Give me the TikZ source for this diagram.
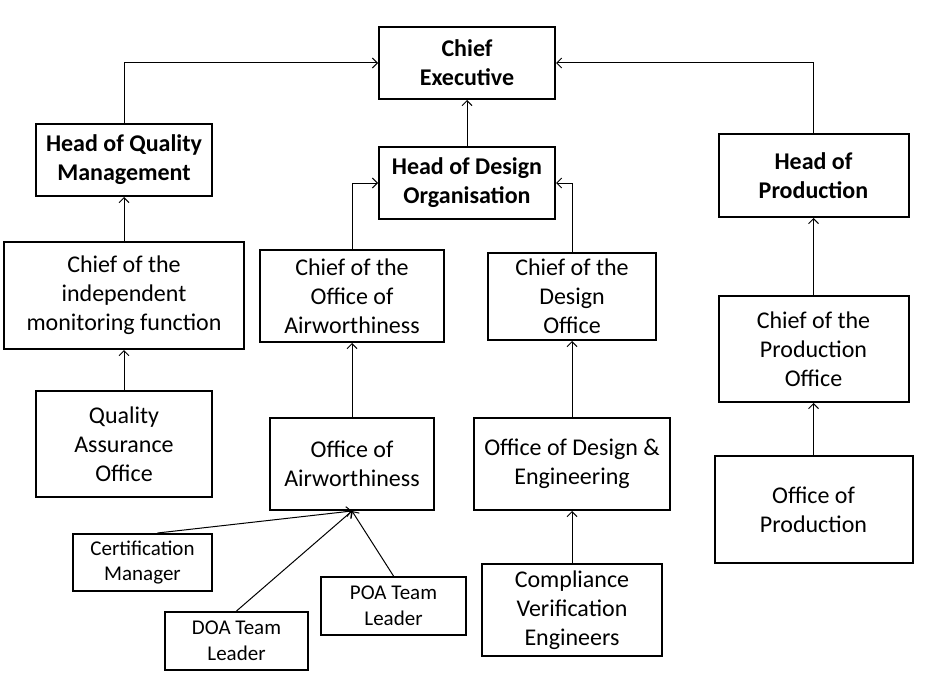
\documentclass[tikz,border=0pt]{standalone}
\usepackage{fontspec}
\setmainfont{Carlito}
\usetikzlibrary{arrows.meta}
\begin{document}
\begin{tikzpicture}[x=1pt,y=-1pt,
 box/.style={draw, line width=2pt, align=center, inner sep=0pt, font=\fontsize{24}{29}\selectfont},
 bbox/.style={box, font=\fontsize{24}{29}\selectfont\bfseries},
 sbox/.style={box, font=\fontsize{21}{25.5}\selectfont},
 conn/.style={line width=1pt, -{Straight Barb[length=5pt,width=10pt]}}]
\useasboundingbox (0,0) rectangle (926,685);
\node[bbox, minimum width=176pt, minimum height=72pt] (ce) at (467,63) {Chief\\Executive};
\node[bbox, minimum width=176pt, minimum height=72pt] (hqm) at (124,160) {Head of Quality\\Management};
\node[bbox, minimum width=176pt, minimum height=72pt] (hdo) at (467,183) {Head of Design\\Organisation};
\node[bbox, minimum width=190pt, minimum height=83pt] (hop) at (813.5,175.5) {Head of\\Production};
\node[box, minimum width=240pt, minimum height=107pt] (cim) at (124,295.5) {Chief of the\\independent\\monitoring function};
\node[box, minimum width=184pt, minimum height=92pt] (coa) at (352,296) {Chief of the\\Office of\\Airworthiness};
\node[box, minimum width=168pt, minimum height=87pt] (cdo) at (572,296.5) {Chief of the\\Design\\Office};
\node[box, minimum width=190pt, minimum height=106pt] (cpo) at (813.5,349) {Chief of the\\Production\\Office};
\node[box, minimum width=176pt, minimum height=106pt] (qao) at (124,444) {Quality\\Assurance\\Office};
\node[box, minimum width=164pt, minimum height=92pt] (oa) at (352,464) {Office of\\Airworthiness};
\node[box, minimum width=196pt, minimum height=92pt] (ode) at (572,464) {Office of Design \&\\Engineering};
\node[box, minimum width=198pt, minimum height=107pt] (op) at (813.5,509.5) {Office of\\Production};
\node[sbox, minimum width=139pt, minimum height=57pt] (cm) at (142.5,562.5) {Certification\\Manager};
\node[sbox, minimum width=145pt, minimum height=58pt] (poa) at (393.5,606) {POA Team\\Leader};
\node[sbox, minimum width=143pt, minimum height=58pt] (doa) at (236.5,641) {DOA Team\\Leader};
\node[box, minimum width=180pt, minimum height=92pt] (cve) at (572,610) {Compliance\\Verification\\Engineers};
\draw[conn] (hqm.north) |- (ce.west);
\draw[conn] (hop.north) |- (ce.east);
\draw[conn] (hdo.north) -- (ce.south);
\draw[conn] (cim.north) -- (hqm.south);
\draw[conn] (qao.north) -- (cim.south);
\draw[conn] (coa.north) |- (hdo.west);
\draw[conn] (cdo.north) |- (hdo.east);
\draw[conn] (oa.north) -- (coa.south);
\draw[conn] (ode.north) -- (cdo.south);
\draw[conn] (cve.north) -- (ode.south);
\draw[conn] (op.north) -- (cpo.south);
\draw[conn] (cpo.north) -- (hop.south);
\draw[conn] ([xshift=15pt]cm.north) -- (oa.south);
\draw[conn] (doa.north) -- (oa.south);
\draw[conn] (poa.north) -- (oa.south);
\end{tikzpicture}
\end{document}
